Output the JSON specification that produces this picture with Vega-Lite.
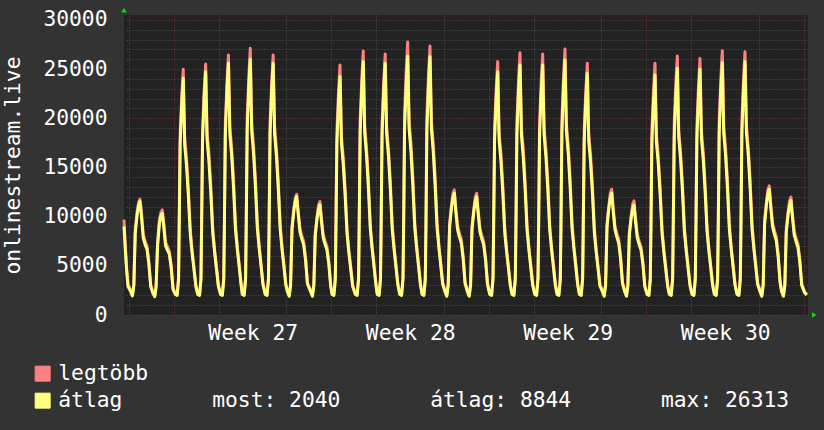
{
"$schema":"https://vega.github.io/schema/vega-lite/v6.json",
"width":684,"height":300,
"autosize":{"type":"none"},
"padding":{"left":124,"top":15,"right":16,"bottom":115},
"background":"#333333",
"config":{"view":{"fill":"#222222","stroke":null},"font":"DejaVu Sans Mono","axis":{"labelOverlap":false}},
"data":{"values":[
{"h":-53.3,"a":9000,"m":9700},{"h":-52,"a":6800,"m":7300},{"h":-50.5,"a":4500,"m":4800},{"h":-49,"a":2900,"m":3100},
{"h":-46.3,"a":2400,"m":2550},{"h":-44.3,"a":1950,"m":2050},{"h":-42.8,"a":3000,"m":3200},{"h":-41.3,"a":8300,"m":8800},{"h":-39.3,"a":10150,"m":10500},{"h":-37.8,"a":11080,"m":11400},{"h":-36.3,"a":11540,"m":11780},{"h":-34.8,"a":10150,"m":10600},{"h":-32.8,"a":7850,"m":8200},{"h":-30.8,"a":7150,"m":7500},{"h":-28.8,"a":6700,"m":7000},{"h":-26.8,"a":5200,"m":5450},{"h":-24.8,"a":2900,"m":3050},
{"h":-22.5,"a":2200,"m":2350},{"h":-20.5,"a":1850,"m":1950},{"h":-19,"a":2900,"m":3100},{"h":-17.5,"a":7000,"m":7400},{"h":-15.5,"a":9300,"m":9700},{"h":-14,"a":10050,"m":10400},{"h":-12.5,"a":10350,"m":10690},{"h":-11,"a":9100,"m":9500},{"h":-9,"a":7050,"m":7400},{"h":-7,"a":6600,"m":6950},{"h":-5,"a":6200,"m":6500},{"h":-3,"a":4850,"m":5100},{"h":-1,"a":2600,"m":2750},
{"h":1.4,"a":2100,"m":2200},{"h":3.4,"a":2000,"m":2100},{"h":4.9,"a":3600,"m":3900},{"h":5.6,"a":9000,"m":9800},{"h":6.6,"a":17330,"m":18490},{"h":8.4,"a":21660,"m":22480},{"h":9.9,"a":24070,"m":24980},{"h":11.4,"a":17330,"m":18050},{"h":13.4,"a":15160,"m":15890},{"h":15.4,"a":12040,"m":12760},{"h":17.4,"a":8180,"m":8670},{"h":19.4,"a":6260,"m":6500},{"h":21.4,"a":4570,"m":4810},{"h":23.4,"a":2890,"m":3010},
{"h":25.3,"a":2100,"m":2200},{"h":27.3,"a":2000,"m":2100},{"h":28.8,"a":3600,"m":3900},{"h":29.5,"a":9000,"m":9800},{"h":30.5,"a":17810,"m":18880},{"h":32.3,"a":22270,"m":22970},{"h":33.8,"a":24740,"m":25520},{"h":35.3,"a":17810,"m":18560},{"h":37.3,"a":15590,"m":16330},{"h":39.3,"a":12370,"m":13110},{"h":41.3,"a":8410,"m":8910},{"h":43.3,"a":6430,"m":6680},{"h":45.3,"a":4700,"m":4950},{"h":47.3,"a":2970,"m":3090},
{"h":49.6,"a":2100,"m":2200},{"h":51.6,"a":2000,"m":2100},{"h":53.1,"a":3600,"m":3900},{"h":53.8,"a":9000,"m":9800},{"h":54.8,"a":18420,"m":19560},{"h":56.6,"a":23030,"m":23790},{"h":58.1,"a":25590,"m":26430},{"h":59.6,"a":18420,"m":19190},{"h":61.6,"a":16120,"m":16890},{"h":63.6,"a":12800,"m":13560},{"h":65.6,"a":8700,"m":9210},{"h":67.6,"a":6650,"m":6910},{"h":69.6,"a":4860,"m":5120},{"h":71.6,"a":3070,"m":3200},
{"h":72.9,"a":2100,"m":2200},{"h":74.9,"a":2000,"m":2100},{"h":76.4,"a":3600,"m":3900},{"h":77.1,"a":9000,"m":9800},{"h":78.1,"a":18720,"m":20060},{"h":79.9,"a":23400,"m":24400},{"h":81.4,"a":26000,"m":27110},{"h":82.9,"a":18720,"m":19500},{"h":84.9,"a":16380,"m":17160},{"h":86.9,"a":13000,"m":13780},{"h":88.9,"a":8840,"m":9360},{"h":90.9,"a":6760,"m":7020},{"h":92.9,"a":4940,"m":5200},{"h":94.9,"a":3120,"m":3250},
{"h":97.3,"a":2100,"m":2200},{"h":99.3,"a":2000,"m":2100},{"h":100.8,"a":3600,"m":3900},{"h":101.5,"a":9000,"m":9800},{"h":102.5,"a":18420,"m":19560},{"h":104.3,"a":23030,"m":23790},{"h":105.8,"a":25590,"m":26430},{"h":107.3,"a":18420,"m":19190},{"h":109.3,"a":16120,"m":16890},{"h":111.3,"a":12800,"m":13560},{"h":113.3,"a":8700,"m":9210},{"h":115.3,"a":6650,"m":6910},{"h":117.3,"a":4860,"m":5120},{"h":119.3,"a":3070,"m":3200},
{"h":120.9,"a":2400,"m":2550},{"h":122.9,"a":1900,"m":2000},{"h":124.4,"a":3000,"m":3200},{"h":125.9,"a":8670,"m":9030},{"h":127.9,"a":10600,"m":10840},{"h":129.4,"a":11560,"m":11910},{"h":130.9,"a":12040,"m":12280},{"h":132.4,"a":10350,"m":10720},{"h":134.4,"a":8430,"m":8790},{"h":136.4,"a":7710,"m":8070},{"h":138.4,"a":7100,"m":7460},{"h":140.4,"a":5540,"m":5780},{"h":142.4,"a":3130,"m":3250},
{"h":145.7,"a":2400,"m":2550},{"h":147.7,"a":1900,"m":2000},{"h":149.2,"a":3000,"m":3200},{"h":150.7,"a":8060,"m":8400},{"h":152.7,"a":9860,"m":10080},{"h":154.2,"a":10750,"m":11190},{"h":155.7,"a":11200,"m":11540},{"h":157.2,"a":9630,"m":9970},{"h":159.2,"a":7840,"m":8180},{"h":161.2,"a":7170,"m":7500},{"h":163.2,"a":6610,"m":6940},{"h":165.2,"a":5150,"m":5380},{"h":167.2,"a":2910,"m":3020},
{"h":168.6,"a":2100,"m":2200},{"h":170.6,"a":2000,"m":2100},{"h":172.1,"a":3600,"m":3900},{"h":172.8,"a":9000,"m":9800},{"h":173.8,"a":17450,"m":18810},{"h":175.6,"a":21820,"m":22880},{"h":177.1,"a":24240,"m":25420},{"h":178.6,"a":17450,"m":18180},{"h":180.6,"a":15270,"m":16000},{"h":182.6,"a":12120,"m":12850},{"h":184.6,"a":8240,"m":8730},{"h":186.6,"a":6300,"m":6540},{"h":188.6,"a":4610,"m":4850},{"h":190.6,"a":2910,"m":3030},
{"h":193.4,"a":2100,"m":2200},{"h":195.4,"a":2000,"m":2100},{"h":196.9,"a":3600,"m":3900},{"h":197.6,"a":9000,"m":9800},{"h":198.6,"a":18550,"m":19860},{"h":200.4,"a":23180,"m":24160},{"h":201.9,"a":25760,"m":26840},{"h":203.4,"a":18550,"m":19320},{"h":205.4,"a":16230,"m":17000},{"h":207.4,"a":12880,"m":13650},{"h":209.4,"a":8760,"m":9270},{"h":211.4,"a":6700,"m":6960},{"h":213.4,"a":4890,"m":5150},{"h":215.4,"a":3090,"m":3220},
{"h":216.8,"a":2100,"m":2200},{"h":218.8,"a":2000,"m":2100},{"h":220.3,"a":3600,"m":3900},{"h":221,"a":9000,"m":9800},{"h":222,"a":18420,"m":19630},{"h":223.8,"a":23030,"m":23880},{"h":225.3,"a":25590,"m":26530},{"h":226.8,"a":18420,"m":19190},{"h":228.8,"a":16120,"m":16890},{"h":230.8,"a":12800,"m":13560},{"h":232.8,"a":8700,"m":9210},{"h":234.8,"a":6650,"m":6910},{"h":236.8,"a":4860,"m":5120},{"h":238.8,"a":3070,"m":3200},
{"h":240.8,"a":2100,"m":2200},{"h":242.8,"a":2000,"m":2100},{"h":244.3,"a":3600,"m":3900},{"h":245,"a":9000,"m":9800},{"h":246,"a":18950,"m":20540},{"h":247.8,"a":23680,"m":24980},{"h":249.3,"a":26313,"m":27760},{"h":250.8,"a":18950,"m":19730},{"h":252.8,"a":16580,"m":17370},{"h":254.8,"a":13160,"m":13950},{"h":256.8,"a":8950,"m":9470},{"h":258.8,"a":6840,"m":7100},{"h":260.8,"a":5000,"m":5260},{"h":262.8,"a":3160,"m":3290},
{"h":264.6,"a":2100,"m":2200},{"h":266.6,"a":2000,"m":2100},{"h":268.1,"a":3600,"m":3900},{"h":268.8,"a":9000,"m":9800},{"h":269.8,"a":18910,"m":20240},{"h":271.6,"a":23630,"m":24620},{"h":273.1,"a":26260,"m":27350},{"h":274.6,"a":18910,"m":19700},{"h":276.6,"a":16540,"m":17330},{"h":278.6,"a":13130,"m":13920},{"h":280.6,"a":8930,"m":9450},{"h":282.6,"a":6830,"m":7090},{"h":284.6,"a":4990,"m":5250},{"h":286.6,"a":3150,"m":3280},
{"h":289,"a":2400,"m":2550},{"h":291,"a":1900,"m":2000},{"h":292.5,"a":3000,"m":3200},{"h":294,"a":8910,"m":9290},{"h":296,"a":10890,"m":11140},{"h":297.5,"a":11880,"m":12340},{"h":299,"a":12380,"m":12720},{"h":300.5,"a":10650,"m":11020},{"h":302.5,"a":8670,"m":9040},{"h":304.5,"a":7920,"m":8290},{"h":306.5,"a":7300,"m":7680},{"h":308.5,"a":5690,"m":5940},{"h":310.5,"a":3220,"m":3340},
{"h":312.9,"a":2400,"m":2550},{"h":314.9,"a":1900,"m":2000},{"h":316.4,"a":3000,"m":3200},{"h":317.9,"a":8670,"m":9030},{"h":319.9,"a":10600,"m":10840},{"h":321.4,"a":11560,"m":12010},{"h":322.9,"a":12040,"m":12380},{"h":324.4,"a":10350,"m":10720},{"h":326.4,"a":8430,"m":8790},{"h":328.4,"a":7710,"m":8070},{"h":330.4,"a":7100,"m":7460},{"h":332.4,"a":5540,"m":5780},{"h":334.4,"a":3130,"m":3250},
{"h":336.8,"a":2100,"m":2200},{"h":338.8,"a":2000,"m":2100},{"h":340.3,"a":3600,"m":3900},{"h":341,"a":9000,"m":9800},{"h":342,"a":17810,"m":19060},{"h":343.8,"a":22270,"m":23180},{"h":345.3,"a":24740,"m":25760},{"h":346.8,"a":17810,"m":18560},{"h":348.8,"a":15590,"m":16330},{"h":350.8,"a":12370,"m":13110},{"h":352.8,"a":8410,"m":8910},{"h":354.8,"a":6430,"m":6680},{"h":356.8,"a":4700,"m":4950},{"h":358.8,"a":2970,"m":3090},
{"h":360.6,"a":2100,"m":2200},{"h":362.6,"a":2000,"m":2100},{"h":364.1,"a":3600,"m":3900},{"h":364.8,"a":9000,"m":9800},{"h":365.8,"a":18300,"m":19740},{"h":367.6,"a":22880,"m":24000},{"h":369.1,"a":25420,"m":26670},{"h":370.6,"a":18300,"m":19070},{"h":372.6,"a":16010,"m":16780},{"h":374.6,"a":12710,"m":13470},{"h":376.6,"a":8640,"m":9150},{"h":378.6,"a":6610,"m":6860},{"h":380.6,"a":4830,"m":5080},{"h":382.6,"a":3050,"m":3180},
{"h":384.8,"a":2100,"m":2200},{"h":386.8,"a":2000,"m":2100},{"h":388.3,"a":3600,"m":3900},{"h":389,"a":9000,"m":9800},{"h":390,"a":18300,"m":19630},{"h":391.8,"a":22880,"m":23880},{"h":393.3,"a":25420,"m":26530},{"h":394.8,"a":18300,"m":19070},{"h":396.8,"a":16010,"m":16780},{"h":398.8,"a":12710,"m":13470},{"h":400.8,"a":8640,"m":9150},{"h":402.8,"a":6610,"m":6860},{"h":404.8,"a":4830,"m":5080},{"h":406.8,"a":3050,"m":3180},
{"h":408.6,"a":2100,"m":2200},{"h":410.6,"a":2000,"m":2100},{"h":412.1,"a":3600,"m":3900},{"h":412.8,"a":9000,"m":9800},{"h":413.8,"a":18670,"m":20010},{"h":415.6,"a":23340,"m":24340},{"h":417.1,"a":25930,"m":27040},{"h":418.6,"a":18670,"m":19450},{"h":420.6,"a":16340,"m":17110},{"h":422.6,"a":12970,"m":13740},{"h":424.6,"a":8820,"m":9330},{"h":426.6,"a":6740,"m":7000},{"h":428.6,"a":4930,"m":5190},{"h":430.6,"a":3110,"m":3240},
{"h":432.4,"a":2100,"m":2200},{"h":434.4,"a":2000,"m":2100},{"h":435.9,"a":3600,"m":3900},{"h":436.6,"a":9000,"m":9800},{"h":437.6,"a":17690,"m":18940},{"h":439.4,"a":22110,"m":23030},{"h":440.9,"a":24570,"m":25590},{"h":442.4,"a":17690,"m":18430},{"h":444.4,"a":15480,"m":16220},{"h":446.4,"a":12290,"m":13020},{"h":448.4,"a":8350,"m":8850},{"h":450.4,"a":6390,"m":6630},{"h":452.4,"a":4670,"m":4910},{"h":454.4,"a":2950,"m":3070},
{"h":456.9,"a":2400,"m":2550},{"h":458.9,"a":1900,"m":2000},{"h":460.4,"a":3000,"m":3200},{"h":461.9,"a":8910,"m":9290},{"h":463.9,"a":10890,"m":11140},{"h":465.4,"a":11880,"m":12410},{"h":466.9,"a":12380,"m":12790},{"h":468.4,"a":10650,"m":11020},{"h":470.4,"a":8670,"m":9040},{"h":472.4,"a":7920,"m":8290},{"h":474.4,"a":7300,"m":7680},{"h":476.4,"a":5690,"m":5940},{"h":478.4,"a":3220,"m":3340},
{"h":480.7,"a":2400,"m":2550},{"h":482.7,"a":1900,"m":2000},{"h":484.2,"a":3000,"m":3200},{"h":485.7,"a":8060,"m":8400},{"h":487.7,"a":9860,"m":10080},{"h":489.2,"a":10750,"m":11250},{"h":490.7,"a":11200,"m":11600},{"h":492.2,"a":9630,"m":9970},{"h":494.2,"a":7840,"m":8180},{"h":496.2,"a":7170,"m":7500},{"h":498.2,"a":6610,"m":6940},{"h":500.2,"a":5150,"m":5380},{"h":502.2,"a":2910,"m":3020},
{"h":504.6,"a":2100,"m":2200},{"h":506.6,"a":2000,"m":2100},{"h":508.1,"a":3600,"m":3900},{"h":508.8,"a":9000,"m":9800},{"h":509.8,"a":17570,"m":18940},{"h":511.6,"a":21960,"m":23030},{"h":513.1,"a":24400,"m":25590},{"h":514.6,"a":17570,"m":18300},{"h":516.6,"a":15370,"m":16100},{"h":518.6,"a":12200,"m":12930},{"h":520.6,"a":8300,"m":8780},{"h":522.6,"a":6340,"m":6590},{"h":524.6,"a":4640,"m":4880},{"h":526.6,"a":2930,"m":3050},
{"h":528.4,"a":2100,"m":2200},{"h":530.4,"a":2000,"m":2100},{"h":531.9,"a":3600,"m":3900},{"h":532.6,"a":9000,"m":9800},{"h":533.6,"a":18060,"m":19480},{"h":535.4,"a":22570,"m":23700},{"h":536.9,"a":25080,"m":26330},{"h":538.4,"a":18060,"m":18810},{"h":540.4,"a":15800,"m":16550},{"h":542.4,"a":12540,"m":13290},{"h":544.4,"a":8530,"m":9030},{"h":546.4,"a":6520,"m":6770},{"h":548.4,"a":4770,"m":5020},{"h":550.4,"a":3010,"m":3140},
{"h":552.6,"a":2100,"m":2200},{"h":554.6,"a":2000,"m":2100},{"h":556.1,"a":3600,"m":3900},{"h":556.8,"a":9000,"m":9800},{"h":557.8,"a":17990,"m":19310},{"h":559.6,"a":22480,"m":23480},{"h":561.1,"a":24980,"m":26090},{"h":562.6,"a":17990,"m":18740},{"h":564.6,"a":15740,"m":16490},{"h":566.6,"a":12490,"m":13240},{"h":568.6,"a":8490,"m":8990},{"h":570.6,"a":6490,"m":6740},{"h":572.6,"a":4750,"m":5000},{"h":574.6,"a":3000,"m":3120},
{"h":576.4,"a":2100,"m":2200},{"h":578.4,"a":2000,"m":2100},{"h":579.9,"a":3600,"m":3900},{"h":580.6,"a":9000,"m":9800},{"h":581.6,"a":18480,"m":19880},{"h":583.4,"a":23090,"m":24180},{"h":584.9,"a":25660,"m":26870},{"h":586.4,"a":18480,"m":19250},{"h":588.4,"a":16170,"m":16940},{"h":590.4,"a":12830,"m":13600},{"h":592.4,"a":8720,"m":9240},{"h":594.4,"a":6670,"m":6930},{"h":596.4,"a":4880,"m":5130},{"h":598.4,"a":3080,"m":3210},
{"h":600.6,"a":2100,"m":2200},{"h":602.6,"a":2000,"m":2100},{"h":604.1,"a":3600,"m":3900},{"h":604.8,"a":9000,"m":9800},{"h":605.8,"a":18550,"m":19810},{"h":607.6,"a":23180,"m":24090},{"h":609.1,"a":25760,"m":26770},{"h":610.6,"a":18550,"m":19320},{"h":612.6,"a":16230,"m":17000},{"h":614.6,"a":12880,"m":13650},{"h":616.6,"a":8760,"m":9270},{"h":618.6,"a":6700,"m":6960},{"h":620.6,"a":4890,"m":5150},{"h":622.6,"a":3090,"m":3220},
{"h":625,"a":2400,"m":2550},{"h":627,"a":1900,"m":2000},{"h":628.5,"a":3000,"m":3200},{"h":630,"a":9210,"m":9590},{"h":632,"a":11260,"m":11510},{"h":633.5,"a":12280,"m":12740},{"h":635,"a":12790,"m":13130},{"h":636.5,"a":11000,"m":11380},{"h":638.5,"a":8950,"m":9340},{"h":640.5,"a":8190,"m":8570},{"h":642.5,"a":7550,"m":7930},{"h":644.5,"a":5880,"m":6140},{"h":646.5,"a":3330,"m":3450},
{"h":648.1,"a":2400,"m":2550},{"h":650.1,"a":1900,"m":2000},{"h":651.6,"a":3000,"m":3200},{"h":653.1,"a":8380,"m":8730},{"h":655.1,"a":10240,"m":10480},{"h":656.6,"a":11170,"m":11620},{"h":658.1,"a":11640,"m":11980},{"h":659.6,"a":10010,"m":10360},{"h":661.6,"a":8150,"m":8500},{"h":663.6,"a":7450,"m":7800},{"h":665.6,"a":6870,"m":7220},{"h":667.6,"a":5350,"m":5590},{"h":669.6,"a":3030,"m":3140},
{"h":672.5,"a":2300,"m":2400},{"h":675,"a":2040,"m":2100}
]},
"resolve":{"axis":{"y":"independent"}},
"layer":[
{"mark":{"type":"line","strokeWidth":3,"strokeJoin":"round"},
 "encoding":{
  "x":{"field":"h","type":"quantitative","scale":{"domain":[-53.3,676.3],"nice":false,"zero":false},
   "axis":{"title":null,"values":[-48,-24,0,24,48,72,84,96,120,144,168,192,216,240,252,264,288,312,336,360,384,408,420,432,456,480,504,528,552,576,588,600,624,648,672],
    "grid":true,"gridDash":[1,2],"gridWidth":1,
    "gridColor":{"condition":{"test":"datum.value % 168 === 0","value":"#803434"},"value":"#505050"},
    "gridOpacity":{"condition":{"test":"datum.value % 24 === 0","value":1},"value":0},
    "ticks":false,"domain":false,"labelOverlap":false,"labelFlush":false,
    "labelExpr":"datum.value % 168 === 84 ? 'Week ' + (27 + floor(datum.value / 168)) : ''",
    "labelFont":"DejaVu Sans Mono","labelFontSize":21.3,"labelColor":"#ffffff","labelPadding":7}},
  "y":{"field":"m","type":"quantitative","scale":{"domain":[0,30500],"nice":false},
   "axis":{"orient":"left","title":"onlinestream.live","titleFont":"DejaVu Sans Mono","titleFontSize":21.3,"titleFontWeight":"normal","titleColor":"#ffffff","titlePadding":19,
    "values":[0,5000,10000,15000,20000,25000,30000],"format":"d",
    "grid":false,"ticks":false,"domain":false,"labelOverlap":false,"labelFlush":false,
    "labelFont":"DejaVu Sans Mono","labelFontSize":21.3,"labelColor":"#ffffff","labelPadding":17}},
  "color":{"datum":"legtöbb","type":"nominal","scale":{"domain":["legtöbb","átlag"],"range":["#ff8080","#ffff80"]},
   "legend":{"orient":"none","legendX":-92,"legendY":348,"title":null,"padding":0,"symbolType":"square","symbolSize":225,
    "labelFont":"DejaVu Sans Mono","labelFontSize":21.3,"labelColor":"#ffffff","labelLimit":2000,"labelOffset":5,"rowPadding":5,
    "labelExpr":"datum.label === 'átlag' ? 'átlag\u00a0\u00a0\u00a0\u00a0\u00a0\u00a0\u00a0most:\u00a02040\u00a0\u00a0\u00a0\u00a0\u00a0\u00a0\u00a0átlag:\u00a08844\u00a0\u00a0\u00a0\u00a0\u00a0\u00a0\u00a0max:\u00a026313' : datum.label",
    "encode":{"symbols":{"update":{"fill":{"scale":"color","field":"value"},"stroke":{"value":"#000000"},"strokeWidth":{"value":1},"opacity":{"value":1},"fillOpacity":{"value":1}}}}}}
 }},
{"mark":{"type":"line","strokeWidth":3,"strokeJoin":"round"},
 "encoding":{
  "x":{"field":"h","type":"quantitative"},
  "y":{"field":"a","type":"quantitative",
   "axis":{"orient":"right","title":null,"labels":false,"ticks":false,"domain":false,
    "values":[0,1000,2000,3000,4000,5000,6000,7000,8000,9000,10000,11000,12000,13000,14000,15000,16000,17000,18000,19000,20000,21000,22000,23000,24000,25000,26000,27000,28000,29000,30000],
    "grid":true,"gridDash":[1,2],"gridWidth":1,
    "gridColor":{"condition":{"test":"datum.value % 5000 === 0","value":"#803434"},"value":"#505050"}}},
  "color":{"datum":"átlag","type":"nominal"}
 }},
{"data":{"values":[{"h":-53.3,"v":31000,"s":"triangle-up"},{"h":683,"v":0,"s":"triangle-right"}]},
 "mark":{"type":"point","filled":true,"opacity":1,"size":30,"color":"#00e000"},
 "encoding":{
  "x":{"field":"h","type":"quantitative"},
  "y":{"field":"v","type":"quantitative","axis":null},
  "shape":{"field":"s","type":"nominal","scale":null,"legend":null}
 }}
]
}
